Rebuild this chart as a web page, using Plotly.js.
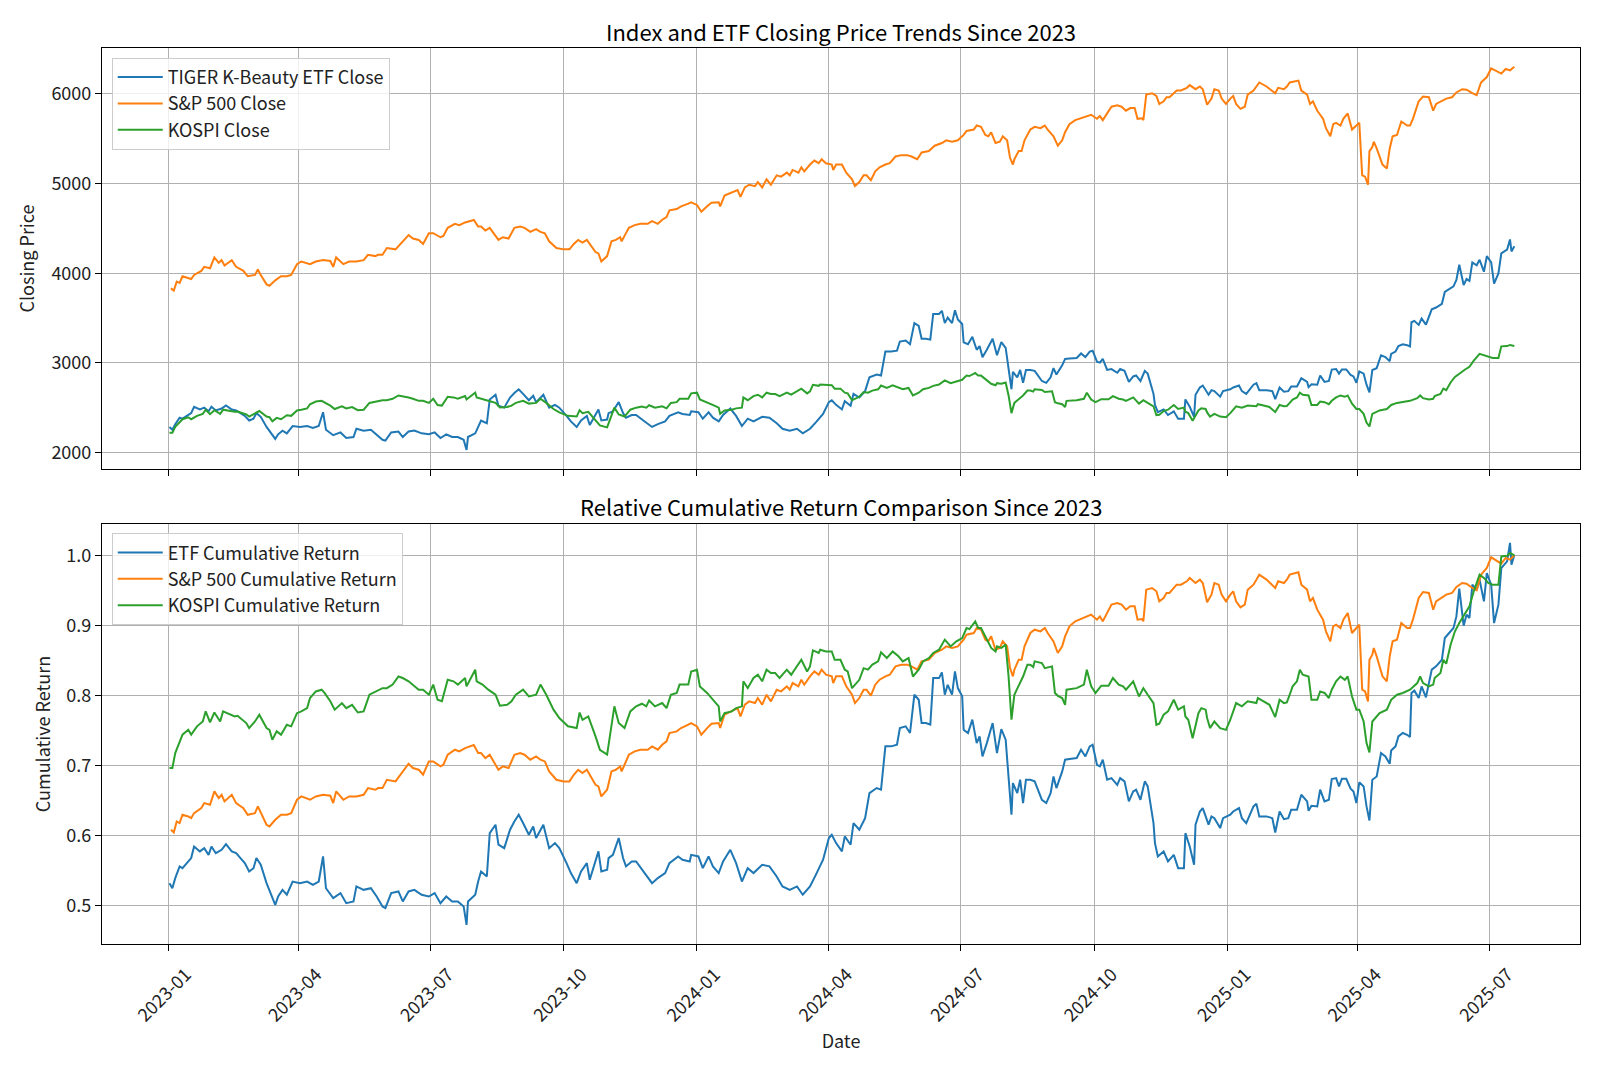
<!DOCTYPE html>
<html>
<head>
<meta charset="utf-8">
<script src="https://cdn.plot.ly/plotly-3.0.1.min.js"></script>
<style>
  html, body { margin: 0; padding: 0; background: #fff; }
  #chart { width: 1600px; height: 1067px; }
</style>
</head>
<body>
<div id="chart"></div>
<script>
// Values.
// Days are calendar days counted from 2023-01-01, closes are in index points / KRW.
const etfDay = [1,3,5,8,10,14,16,18,22,25,28,30,33,37,40,44,47,50,53,56,59,61,64,68,71,74,76,79,82,86,91,96,100,104,107,109,114,119,123,128,130,135,140,144,148,
  150,154,159,162,166,170,175,180,184,188,192,196,200,204,206,207,212,214,216,220,222,226,228,232,236,239,242,245,249,252,254,259,263,267,270,275,278,282,285,289,291,297,299,
  303,304,307,311,314,316,320,323,328,334,338,343,346,352,355,360,361,366,369,373,376,380,383,388,392,396,400,404,410,415,420,424,429,434,438,443,447,452,
  456,458,461,465,467,471,473,477,481,484,489,492,495,499,503,505,509,512,515,518,520,523,526,528,532,534,536,538,541,543,545,548,549,552,555,558,560,562,565,569,572,575,578,580,582,583,586,588,590,592,
  595,598,601,603,606,609,611,613,617,619,622,627,630,633,636,638,641,643,645,648,651,655,657,660,663,666,668,671,674,676,680,681,683,687,690,694,697,701,702,705,708,709,712,714,718,720,722,726,728,733,735,739,741,744,
  749,751,753,758,762,764,767,770,773,775,779,782,786,787,789,793,795,798,801,803,806,808,810,813,816,818,820,822,825,827,829,831,834,837,840,843,844,847,849,852,855,857,858,860,863,865,868,872,875,878,879,881,885,887,889,891,894,896,898,900,903,905,908,910,913,915,918,920,921,924,926,927,929];
const etfClose = [2287,2256,2318,2390,2379,2420,2441,2512,2482,2502,2461,2512,2471,2492,2527,2482,2471,2441,2410,2359,2379,2441,2400,2287,2226,2154,2205,2246,2216,2297,2287,2297,2277,2297,2451,2256,2195,2226,2164,2175,2267,2246,2256,2205,2144,
  2134,2226,2236,2175,2236,2246,2216,2205,2226,2164,2205,2175,2175,2144,2031,2175,2216,2297,2359,2328,2594,2646,2523,2502,2615,2666,2707,2656,2584,2635,2564,2646,2502,2533,2502,2410,2349,2287,2359,2410,2308,2482,2359,
  2369,2441,2461,2564,2441,2390,2420,2420,2359,2287,2318,2349,2410,2451,2431,2420,2461,2451,2379,2451,2390,2349,2420,2492,2410,2297,2379,2349,2400,2390,2328,2267,2246,2267,2216,2267,2338,2431,
  2564,2584,2533,2482,2574,2523,2656,2615,2686,2840,2871,2861,3127,3127,3137,3239,3250,3209,3444,3413,3270,3270,3260,3546,3546,3581,3444,3505,3444,3587,3485,3434,3229,3209,3291,3147,3188,3065,3147,3270,3086,3233,3168,2942,2707,2901,2840,2922,2779,2922,
  2922,2912,2850,2799,2779,2840,2942,2871,2973,3045,3049,3055,3106,3065,3127,3137,3014,3004,3045,2922,2932,2891,2932,2912,2789,2850,2861,2799,2912,2881,2656,2533,2451,2482,2420,2461,2379,2379,2594,2512,2400,2646,2727,2748,2646,2697,2686,2625,2686,2707,2727,2748,2686,2656,
  2758,2775,2697,2697,2686,2598,2727,2680,2686,2738,2738,2830,2789,2731,2762,2758,2861,2789,2799,2926,2932,2881,2928,2928,2867,2850,2779,2906,2881,2758,2672,2922,2942,3086,3065,3020,3102,3127,3188,3209,3198,3184,3454,3469,3424,3495,3428,3598,3618,3649,3659,3792,3833,3854,3925,4095,3868,3935,3915,4120,4089,4150,4017,4191,4120,3884,3997,4222,4232,4263,4376,4243,4300];

const spxDay = [2,4,6,8,10,14,16,18,23,25,29,32,35,37,39,44,47,52,55,60,62,64,68,70,74,78,82,85,89,92,98,102,107,112,114,116,121,125,130,135,138,143,
  145,148,151,157,161,166,169,173,176,180,183,188,190,193,198,201,205,208,211,214,216,219,222,228,231,235,239,243,246,250,254,257,260,263,268,273,277,280,283,286,289,
  295,297,299,303,306,309,312,313,315,318,322,326,331,334,338,341,344,346,351,354,359,361,365,368,372,375,380,381,384,389,393,395,398,401,405,407,410,413,416,420,423,427,429,431,435,437,439,
  443,446,449,451,454,458,459,461,465,468,472,474,477,480,482,485,488,491,495,498,502,506,510,513,517,520,525,529,534,537,541,545,549,551,556,558,561,564,566,568,571,574,576,579,581,583,584,587,589,591,
  595,598,602,605,607,611,614,617,619,622,626,629,634,637,641,643,645,648,651,655,658,661,664,667,669,672,673,675,679,682,684,687,689,691,694,696,699,703,705,709,712,714,717,720,722,725,727,730,733,735,737,740,743,745,
  749,753,758,764,766,770,772,774,780,782,786,788,790,793,795,797,799,802,804,806,809,811,814,817,820,822,824,826,828,829,831,832,834,836,838,841,843,845,848,851,855,857,859,863,866,870,873,875,879,882,886,889,893,896,900,903,906,910,913,917,920,923,926,929];
const spxClose = [3831,3807,3906,3891,3966,3951,3936,3981,4026,4071,4056,4176,4116,4146,4086,4146,4071,4026,3966,3981,4041,3981,3876,3861,3921,3966,3966,3981,4101,4131,4101,4131,4146,4137,4071,4176,4101,4131,4131,4146,4206,4191,
  4206,4206,4281,4266,4341,4425,4386,4371,4326,4446,4446,4401,4416,4506,4551,4536,4566,4581,4593,4521,4521,4476,4506,4371,4401,4386,4506,4521,4506,4461,4491,4461,4446,4356,4281,4266,4266,4326,4371,4341,4371,
  4236,4221,4131,4191,4356,4371,4401,4356,4416,4506,4536,4551,4551,4581,4551,4596,4626,4701,4716,4746,4776,4791,4761,4686,4746,4785,4791,4746,4866,4896,4926,4851,4956,4986,4971,5016,4956,5046,4986,5091,5076,5121,5091,5151,5121,5181,5136,
  5211,5256,5226,5271,5226,5211,5151,5211,5211,5121,5046,4971,5016,5091,5091,5037,5136,5181,5211,5226,5301,5316,5316,5301,5271,5346,5361,5421,5451,5481,5466,5481,5541,5586,5601,5646,5631,5541,5526,5571,5451,5466,5526,5481,5286,5211,5271,5361,5361,5481,
  5601,5631,5616,5646,5601,5526,5421,5481,5571,5661,5706,5721,5751,5766,5721,5751,5706,5781,5856,5871,5856,5811,5841,5841,5721,5727,5706,5991,6006,5976,5886,5916,5961,5961,6006,6036,6036,6066,6096,6051,6081,6051,5877,5946,6051,6036,5946,5886,5946,5976,5886,5832,5856,5991,
  6036,6126,6081,6006,6066,6051,6081,6126,6147,6036,5991,5886,5916,5811,5766,5721,5616,5526,5661,5676,5646,5721,5781,5601,5646,5676,5091,5076,4986,5361,5406,5466,5391,5301,5211,5166,5391,5526,5541,5691,5646,5646,5721,5916,5970,5961,5811,5886,5916,5946,5961,6015,6051,6045,6006,5985,6126,6186,6282,6246,6225,6276,6261,6300];

const kospiDay = [1,3,5,8,10,14,16,20,24,26,29,32,36,38,43,46,48,51,54,56,60,63,68,70,72,75,78,82,85,89,92,96,98,102,106,108,112,115,120,123,127,131,135,139,144,148,
  151,155,159,162,166,169,173,176,180,183,186,189,193,197,200,205,206,209,212,213,217,221,226,229,234,237,240,245,249,254,257,261,266,270,276,282,284,286,290,
  295,298,303,308,311,315,319,323,327,330,332,336,341,344,347,351,353,359,361,365,367,372,377,380,381,384,389,392,396,397,400,404,407,410,413,416,419,422,427,430,437,441,443,445,449,
  450,454,458,460,464,467,469,472,475,477,480,483,486,490,492,496,500,504,507,511,514,518,521,525,528,532,536,540,544,548,551,553,557,559,561,565,568,571,572,575,578,580,582,584,587,590,593,
  595,597,598,603,605,610,612,614,617,619,620,627,632,634,637,640,644,649,652,656,659,661,666,670,673,676,680,682,684,687,690,694,697,701,702,704,707,711,713,716,717,719,722,726,730,733,737,741,745,
  751,752,756,760,764,767,770,772,774,776,779,781,783,787,789,793,795,798,801,803,806,809,812,814,817,820,822,825,827,829,831,834,836,841,844,848,852,857,862,864,866,870,873,874,878,880,882,885,888,891,895,898,901,905,908,911,914,918,920,924,926,929];
const kospiClose = [2221,2221,2289,2342,2373,2395,2373,2411,2433,2479,2429,2474,2433,2479,2464,2456,2459,2441,2426,2403,2433,2464,2403,2395,2350,2388,2373,2418,2411,2471,2479,2494,2540,2570,2578,2563,2525,2487,2517,2494,2509,2474,2479,2555,2570,2585,
  2585,2601,2638,2631,2616,2601,2578,2578,2555,2601,2532,2525,2623,2616,2601,2631,2593,2631,2669,2616,2601,2578,2555,2505,2509,2525,2555,2578,2547,2555,2601,2555,2487,2449,2411,2403,2474,2441,2456,
  2365,2304,2282,2502,2426,2403,2479,2502,2514,2502,2529,2502,2517,2494,2555,2563,2601,2601,2661,2669,2593,2563,2525,2502,2433,2471,2479,2494,2502,2616,2585,2631,2646,2616,2669,2654,2654,2631,2669,2646,2714,2661,2684,2757,2745,
  2760,2752,2752,2714,2714,2669,2661,2585,2608,2623,2676,2669,2692,2707,2748,2722,2752,2730,2707,2722,2638,2669,2707,2722,2745,2760,2806,2775,2798,2813,2859,2854,2889,2859,2859,2806,2768,2752,2775,2768,2783,2638,2441,2555,2593,2638,2692,
  2692,2681,2707,2699,2676,2684,2563,2550,2540,2509,2578,2585,2601,2669,2593,2563,2596,2596,2631,2601,2593,2578,2616,2547,2585,2555,2517,2418,2423,2464,2479,2532,2487,2502,2456,2441,2357,2471,2494,2487,2449,2403,2433,2403,2395,2441,2517,2502,2525,
  2517,2540,2525,2509,2453,2532,2517,2520,2555,2593,2616,2669,2646,2638,2532,2532,2570,2563,2540,2578,2616,2638,2623,2638,2547,2487,2487,2433,2335,2292,2433,2456,2471,2487,2532,2555,2563,2578,2608,2638,2608,2593,2601,2631,2654,2714,2696,2783,2844,2882,2927,2958,3026,3102,3087,3064,3056,3056,3185,3188,3201,3190];

const seriesNames = ['TIGER K-Beauty ETF', 'S&P 500', 'KOSPI'];
const returnNames = ['ETF', 'S&P 500', 'KOSPI'];
const colors = ['#1f77b4', '#ff7f0e', '#2ca02c'];

const FONT = '"Noto Sans CJK KR", "Noto Sans", sans-serif';

// days since 2023-01-01 -> 'YYYY-MM-DD'
function dayToDate(d) {
    const t = new Date(Date.UTC(2023, 0, 1) + d * 86400000);
    return t.toISOString().slice(0, 10);
}

// cumulative return: close relative to the last close of the series
function relative(arr) {
    const last = arr[arr.length - 1];
    return arr.map(v => v / last);
}

const days = [etfDay, spxDay, kospiDay];
const closes = [etfClose, spxClose, kospiClose];

const data = [];
for (let i = 0; i < 3; i++) {
    data.push({
        x: days[i].map(dayToDate),
        y: closes[i],
        type: 'scatter',
        mode: 'lines',
        name: seriesNames[i] + ' Close',
        line: { color: colors[i], width: 2 },
        xaxis: 'x',
        yaxis: 'y',
        legend: 'legend',
        legendgroup: 'a' + i
    });
}
for (let i = 0; i < 3; i++) {
    data.push({
        x: days[i].map(dayToDate),
        y: relative(closes[i]),
        type: 'scatter',
        mode: 'lines',
        name: returnNames[i] + ' Cumulative Return',
        line: { color: colors[i], width: 2 },
        xaxis: 'x2',
        yaxis: 'y2',
        legend: 'legend2',
        legendgroup: 'b' + i
    });
}

const axisCommon = {
    showline: true,
    linecolor: '#000',
    linewidth: 1.1,
    mirror: true,
    ticks: 'outside',
    ticklen: 6,
    tickwidth: 1.1,
    tickcolor: '#000',
    showgrid: true,
    gridcolor: '#b0b0b0',
    gridwidth: 1.1,
    zeroline: false,
    tickfont: { family: FONT, size: 18, color: '#222' }
};

const xRange = ['2022-11-16 11:00', '2025-09-01 07:00'];

const legendCommon = {
    xref: 'paper', yref: 'paper',
    xanchor: 'left', yanchor: 'top',
    x: 0.0066,
    bgcolor: 'rgba(255,255,255,0.8)',
    bordercolor: '#cccccc',
    borderwidth: 1,
    itemwidth: 45,
    tracegroupgap: 0,
    traceorder: 'grouped',
    font: { family: FONT, size: 18, color: '#222' }
};

const layout = {
    width: 1600,
    height: 1067,
    margin: { l: 102, r: 20, t: 48, b: 123 },
    paper_bgcolor: 'white',
    plot_bgcolor: 'white',
    font: { family: FONT, size: 18, color: '#222' },
    showlegend: true,
    xaxis: Object.assign({}, axisCommon, {
        domain: [0, 1], anchor: 'y', type: 'date', range: xRange,
        tick0: '2023-01-01', dtick: 'M3', showticklabels: false
    }),
    yaxis: Object.assign({}, axisCommon, {
        domain: [0.5301, 1], anchor: 'x', range: [1818, 6510],
        tick0: 0, dtick: 1000,
        title: { text: 'Closing Price', standoff: 12, font: { family: FONT, size: 18, color: '#222' } }
    }),
    xaxis2: Object.assign({}, axisCommon, {
        domain: [0, 1], anchor: 'y2', type: 'date', range: xRange, matches: 'x',
        tick0: '2023-01-01', dtick: 'M3', tickformat: '%Y-%m', tickangle: -45,
        ticklabelshift: 18, ticklabelstandoff: 6,
        title: { text: 'Date', standoff: 10, font: { family: FONT, size: 18, color: '#222' } }
    }),
    yaxis2: Object.assign({}, axisCommon, {
        domain: [0, 0.46875], anchor: 'x2', range: [0.445, 1.0447],
        tick0: 0, dtick: 0.1, tickformat: '.1f',
        title: { text: 'Cumulative Return', standoff: 11, font: { family: FONT, size: 18, color: '#222' } }
    }),
    legend: Object.assign({}, legendCommon, { y: 0.989 }),
    legend2: Object.assign({}, legendCommon, { y: 0.4584 }),
    annotations: [
        {
            text: 'Index and ETF Closing Price Trends Since 2023',
            xref: 'paper', yref: 'paper', x: 0.5, y: 1.019,
            xanchor: 'center', yanchor: 'middle', showarrow: false,
            font: { family: FONT, size: 22, color: '#000' }
        },
        {
            text: 'Relative Cumulative Return Comparison Since 2023',
            xref: 'paper', yref: 'paper', x: 0.5, y: 0.4888,
            xanchor: 'center', yanchor: 'middle', showarrow: false,
            font: { family: FONT, size: 22, color: '#000' }
        }
    ]
};

Plotly.newPlot('chart', data, layout, { displayModeBar: false, responsive: false });
</script>
</body>
</html>
